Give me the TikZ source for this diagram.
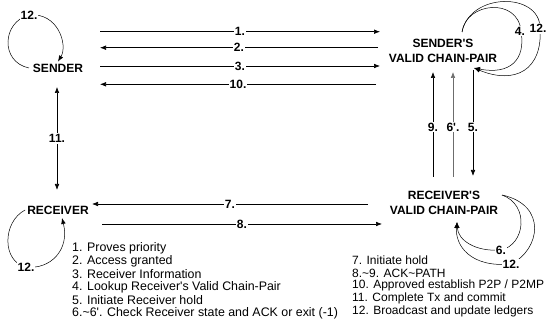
\documentclass[tikz,border=0pt]{standalone}
\usepackage{fontspec}
\setmainfont{Liberation Sans}
\usetikzlibrary{arrows.meta}
\newcommand\apos{\textquotesingle}
\begin{document}
\begin{tikzpicture}[x=1pt,y=-1pt,
  tip/.tip={Latex[length=6pt,width=4.6pt]},
  arr/.style={-tip, line width=0.6pt},
  dbl/.style={tip-tip, line width=0.6pt},
  loop/.style={-tip, line width=0.5pt},
  party/.style={font=\bfseries\fontsize{12}{15}\selectfont, align=center, inner sep=2pt},
  lbl/.style={font=\bfseries\fontsize{12}{13}\selectfont, fill=white, inner sep=1pt},
  legend/.style={font=\fontsize{12.4}{13}\selectfont, anchor=west, inner sep=0pt, align=left},
  legendr/.style={legend, font=\fontsize{12}{13}\selectfont}]
\useasboundingbox (0,0) rectangle (547,331);

% parties
\node[party] (sender) at (58,68) {SENDER};
\node[party] (svcp) at (443,51) {SENDER\apos S\\VALID CHAIN-PAIR};
\node[party] (receiver) at (58,210) {RECEIVER};
\node[party] (rvcp) at (444,203) {RECEIVER\apos S\\VALID CHAIN-PAIR};

% end points of the connectors
\coordinate (s1) at (100,31.7);  \coordinate (c1) at (380,31.7);
\coordinate (s2) at (100,47.7);  \coordinate (c2) at (378,47.7);
\coordinate (s3) at (100,66);    \coordinate (c3) at (380,66);
\coordinate (s10) at (100,84.3); \coordinate (c10) at (376,84.3);
\coordinate (r7) at (92,204);    \coordinate (d7) at (368,204);
\coordinate (r8) at (102,224);   \coordinate (d8) at (382,224);
\coordinate (v9a) at (433,177);  \coordinate (v9b) at (433,72);
\coordinate (v6a) at (453,177);  \coordinate (v6b) at (453,72);
\coordinate (v5a) at (473,70);   \coordinate (v5b) at (473,176);
\coordinate (v11a) at (57,190);  \coordinate (v11b) at (57,87);

% horizontal messages
\draw[arr] (s1) -- node[lbl]{1.} (c1);
\draw[arr] (c2) -- node[lbl]{2.} (s2);
\draw[arr] (s3) -- node[lbl]{3.} (c3);
\draw[arr] (c10) -- node[lbl]{10.} (s10);
\draw[arr] (d7) -- node[lbl]{7.} (r7);
\draw[arr] (r8) -- node[lbl]{8.} (d8);

% vertical messages
\draw[dbl] (v11a) -- node[lbl]{11.} (v11b);
\draw[arr] (v9a) -- node[lbl,pos=0.476]{9.} (v9b);
\draw[arr,draw=gray!85!black] (v6a) -- node[lbl,pos=0.476]{6\apos.} (v6b);
\draw[arr] (v5a) -- node[lbl,pos=0.54]{5.} (v5b);

% self loops
\draw[loop] (29,68) .. controls (0,62) and (2,22) .. (29,15)
            .. controls (58,12) and (68,45) .. (sender.north);
\node[lbl] (l12s) at (29,15) {12.};

\draw[loop] (receiver.west) .. controls (2,222) and (2,262) .. (26,267)
            .. controls (50,270) and (70,250) .. (62,218);
\node[lbl] (l12r) at (26,267.5) {12.};

\draw[loop] (462,32) .. controls (470,-8) and (540,-8) .. (540,28)
            .. controls (543,70) and (515,85) .. (474,68);
\draw[loop] (462,32) .. controls (466,2) and (518,-3) .. (521,31)
            .. controls (526,60) and (510,75) .. (474,68);
\node[lbl] (l4) at (520,31) {4.};
\node[lbl] (l12sv) at (538,28.5) {12.};

\draw[loop] (502,195) .. controls (548,205) and (540,250) .. (511,264)
            .. controls (470,268) and (455,245) .. (457,222);
\draw[loop] (502,195) .. controls (530,205) and (525,245) .. (501,250)
            .. controls (475,252) and (458,240) .. (457,222);
\node[lbl] (l6) at (501,250) {6.};
\node[lbl] (l12rv) at (511,264) {12.};

% legends
\node[legend] (legA) at (72,248) {1. Proves priority};
\node[legend] (legB) at (72,261) {2. Access granted};
\node[legend] (legC) at (72,274) {3. Receiver Information};
\node[legend] (legD) at (72,287) {4. Lookup Receiver\apos s Valid Chain-Pair};
\node[legend] (legE) at (72,300) {5. Initiate Receiver hold};
\node[legend] (legF) at (72,313) {6.\textasciitilde 6\apos. Check Receiver state and ACK or exit (-1)};
\node[legendr] (legG) at (352,260) {7. Initiate hold};
\node[legendr] (legH) at (352,273) {8.\textasciitilde 9. ACK\textasciitilde PATH};
\node[legendr] (legI) at (352,285.7) {10. Approved establish P2P / P2MP};
\node[legendr] (legJ) at (352,298.3) {11. Complete Tx and commit};
\node[legendr] (legK) at (352,311.5) {12. Broadcast and update ledgers};
\end{tikzpicture}
\end{document}
